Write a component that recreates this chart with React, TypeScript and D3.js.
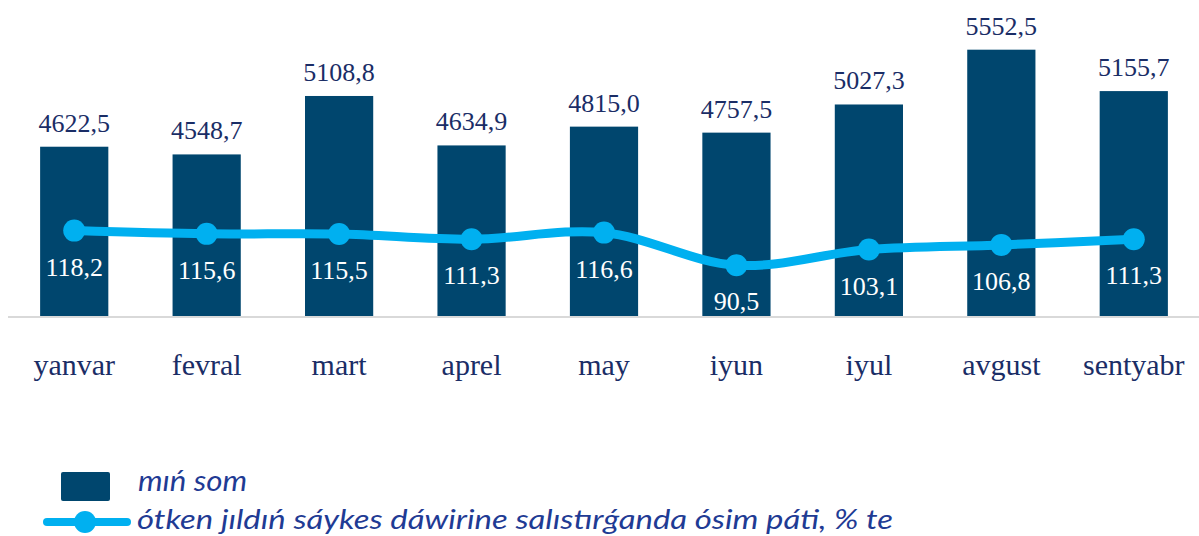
import React, { useEffect, useRef } from "react";
import * as d3 from "d3";

const months = ["yanvar", "fevral", "mart", "aprel", "may", "iyun", "iyul", "avgust", "sentyabr"];
const barValues = [4622.5, 4548.7, 5108.8, 4634.9, 4815.0, 4757.5, 5027.3, 5552.5, 5155.7];
const growthValues = [118.2, 115.6, 115.5, 111.3, 116.6, 90.5, 103.1, 106.8, 111.3];
const barLegend = "mıń som";
const lineLegend = "ótken jıldıń sáykes dáwirine salıstırǵanda ósim páti, % te";

const fmt = (v: number) => v.toFixed(1).replace(".", ",");

const App = () => {
  const ref = useRef<SVGSVGElement>(null);

  useEffect(() => {
    const svg = d3.select(ref.current);
    svg.selectAll("*").remove();

    const width = 1199;
    const height = 536;
    const plot = { left: 8, right: 1200, top: 3, bottom: 316 };

    const barColor = "#00466e";
    const lineColor = "#00b0f0";
    const textColor = "#1a2d66";
    const serif = "Liberation Serif, Tinos, DejaVu Serif, serif";

    svg.attr("width", width).attr("height", height);

    const x = d3.scaleBand().domain(months).range([plot.left, plot.right]).paddingInner(0.485).paddingOuter(0.2425);
    const y = d3.scaleLinear().domain([3000, 6000]).range([plot.bottom, plot.top]);
    const y2 = d3.scaleLinear().domain([50, 300]).range([plot.bottom, plot.top]);

    // bars
    svg
      .append("g")
      .selectAll("rect")
      .data(barValues)
      .join("rect")
      .attr("x", (d, i) => x(months[i])!)
      .attr("y", (d) => y(d))
      .attr("width", x.bandwidth())
      .attr("height", (d) => plot.bottom - y(d))
      .attr("fill", barColor);

    // baseline
    svg
      .append("line")
      .attr("x1", plot.left)
      .attr("x2", width)
      .attr("y1", plot.bottom + 1)
      .attr("y2", plot.bottom + 1)
      .attr("stroke", "#d9d9d9")
      .attr("stroke-width", 2);

    // bar value labels
    svg
      .append("g")
      .selectAll("text")
      .data(barValues)
      .join("text")
      .attr("x", (d, i) => x(months[i])! + x.bandwidth() / 2)
      .attr("y", (d) => y(d) - 15)
      .attr("text-anchor", "middle")
      .style("font-family", serif)
      .style("font-size", "26px")
      .attr("fill", textColor)
      .text((d) => fmt(d));

    // growth line
    const cx = (i: number) => x(months[i])! + x.bandwidth() / 2;
    const line = d3
      .line<number>()
      .x((d, i) => cx(i))
      .y((d) => y2(d))
      .curve(d3.curveCatmullRom.alpha(0.5));

    svg
      .append("path")
      .datum(growthValues)
      .attr("fill", "none")
      .attr("stroke", lineColor)
      .attr("stroke-width", 9)
      .attr("stroke-linecap", "round")
      .attr("d", line);

    svg
      .append("g")
      .selectAll("circle")
      .data(growthValues)
      .join("circle")
      .attr("cx", (d, i) => cx(i))
      .attr("cy", (d) => y2(d))
      .attr("r", 11)
      .attr("fill", lineColor);

    svg
      .append("g")
      .selectAll("text")
      .data(growthValues)
      .join("text")
      .attr("x", (d, i) => cx(i))
      .attr("y", (d) => y2(d) + 45)
      .attr("text-anchor", "middle")
      .style("font-family", serif)
      .style("font-size", "26px")
      .attr("fill", "#ffffff")
      .text((d) => fmt(d));

    // category labels
    svg
      .append("g")
      .selectAll("text")
      .data(months)
      .join("text")
      .attr("x", (d) => x(d)! + x.bandwidth() / 2)
      .attr("y", 375)
      .attr("text-anchor", "middle")
      .style("font-family", serif)
      .style("font-size", "30px")
      .attr("fill", textColor)
      .text((d) => d);

    // legend
    const legend = svg.append("g");
    const legendFont = "Lato, Open Sans, sans-serif";
    const legendColor = "#1f3b94";

    legend
      .append("rect")
      .attr("x", 61)
      .attr("y", 472)
      .attr("width", 49)
      .attr("height", 29)
      .attr("rx", 2)
      .attr("fill", barColor);
    legend
      .append("text")
      .attr("x", 138)
      .attr("y", 491)
      .style("font-family", legendFont)
      .style("font-style", "italic")
      .style("font-size", "28px")
      .attr("fill", legendColor)
      .attr("textLength", 109)
      .attr("lengthAdjust", "spacingAndGlyphs")
      .text(barLegend);

    legend
      .append("line")
      .attr("x1", 47)
      .attr("x2", 127)
      .attr("y1", 522)
      .attr("y2", 522)
      .attr("stroke", lineColor)
      .attr("stroke-width", 8)
      .attr("stroke-linecap", "round");
    legend.append("circle").attr("cx", 85).attr("cy", 522).attr("r", 11).attr("fill", lineColor);
    legend
      .append("text")
      .attr("x", 137)
      .attr("y", 529)
      .style("font-family", legendFont)
      .style("font-style", "italic")
      .style("font-size", "27px")
      .attr("fill", legendColor)
      .attr("textLength", 756)
      .attr("lengthAdjust", "spacingAndGlyphs")
      .text(lineLegend);
  }, []);

  return <svg ref={ref} style={{ position: "absolute", left: 0, top: 0, display: "block" }}></svg>;
};

export default App;
